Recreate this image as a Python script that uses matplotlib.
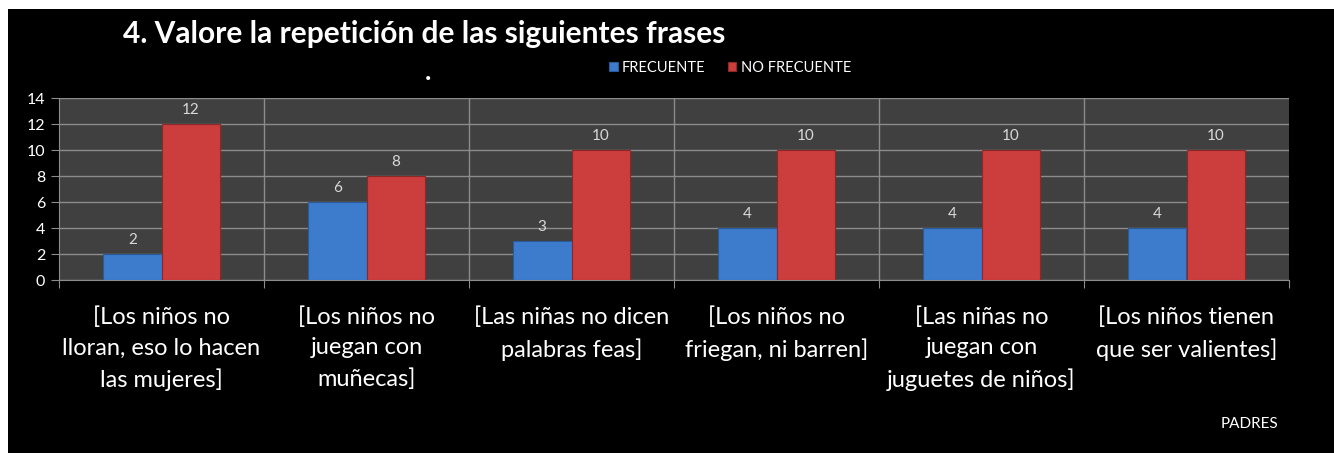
import numpy as np
import matplotlib
matplotlib.use('Agg')
import matplotlib.pyplot as plt
from matplotlib.patches import Rectangle

categories = [
    "[Los niños no\nlloran, eso lo hacen\nlas mujeres]",
    "[Los niños no\njuegan con\nmuñecas]",
    "[Las niñas no dicen\npalabras feas]",
    "[Los niños no\nfriegan, ni barren]",
    "[Las niñas no\njuegan con\njuguetes de niños]",
    "[Los niños tienen\nque ser valientes]",
]
frecuente = [2, 6, 3, 4, 4, 4]
no_frecuente = [12, 8, 10, 10, 10, 10]

plt.rcParams['font.family'] = ['Lato', 'DejaVu Sans']

fig = plt.figure(figsize=(13.34, 4.53), dpi=100)
fig.patch.set_facecolor('white')
# black chart area (white margin on top and left)
fig.patches.append(Rectangle((8 / 1334, 0), 1, (453 - 9) / 453, transform=fig.transFigure,
                             facecolor='black', edgecolor='none', zorder=-10))

ax = fig.add_axes([59 / 1334, 1 - 280 / 453, (1289 - 59) / 1334, (280 - 98) / 453])
ax.set_facecolor('#404040')

x = np.arange(len(categories))
width = 0.285
b1 = ax.bar(x - width / 2, frecuente, width, color='#3d7bcc', edgecolor='#2a5a9a',
            linewidth=0.8, label='FRECUENTE', zorder=3)
b2 = ax.bar(x + width / 2, no_frecuente, width, color='#cc3d3d', edgecolor='#8e2828',
            linewidth=0.8, label='NO FRECUENTE', zorder=3)

for bars in (b1, b2):
    for r in bars:
        ax.text(r.get_x() + r.get_width() / 2, r.get_height() + 0.55, f"{int(r.get_height())}",
                ha='center', va='bottom', color='#d9d9d9', fontsize=11)

ax.set_xlim(-0.5, len(categories) - 0.5)
ax.set_ylim(0, 14)
ax.set_yticks(range(0, 15, 2))
ax.yaxis.grid(True, color='#8c8c8c', linewidth=1, zorder=1)

# category boundaries as vertical grid lines
bounds = np.arange(len(categories) + 1) - 0.5
for b in bounds[1:-1]:
    ax.axvline(b, color='#8c8c8c', linewidth=1, zorder=1)
ax.set_xticks(bounds)
ax.set_xticklabels([])
ax.set_xticks(x, minor=True)
ax.set_xticklabels(categories, minor=True, color='white', fontsize=17, linespacing=1.55)
ax.tick_params(axis='x', which='minor', length=0, pad=19)
ax.tick_params(axis='x', which='major', length=6, color='#8c8c8c')
ax.tick_params(axis='y', length=6, color='#8c8c8c', labelcolor='white', labelsize=11.5, pad=4)

for s in ['top', 'right']:
    ax.spines[s].set_visible(False)
for s in ['left', 'bottom']:
    ax.spines[s].set_color('#8c8c8c')

fig.text(123 / 1334, 1 - 34 / 453, "4. Valore la repetición de las siguientes frases",
         color='white', fontsize=21.5, fontweight='bold', ha='left', va='center')
fig.text(428 / 1334, 1 - 78 / 453, "•", color='white', fontsize=8, ha='center', va='center')
fig.text(1250 / 1334, 1 - 424 / 453, "PADRES", color='white', fontsize=11, ha='center', va='center')

leg = fig.legend(handles=[b1, b2], loc='center', bbox_to_anchor=(730 / 1334, 1 - 68 / 453),
                 ncol=2, frameon=False, fontsize=10.5, labelcolor='white',
                 handlelength=0.6, handleheight=0.6, handletextpad=0.3, columnspacing=1.5)

plt.savefig('out.png', dpi=100, facecolor=fig.get_facecolor())
